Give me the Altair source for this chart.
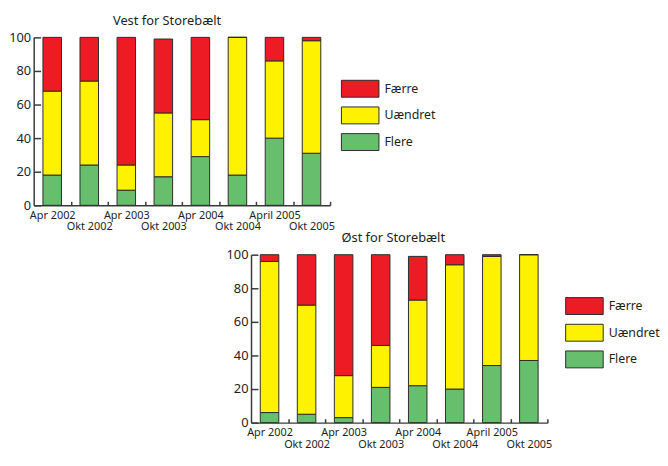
import altair as alt
import pandas as pd

categories = ["Apr 2002", "Okt 2002", "Apr 2003", "Okt 2003",
              "Apr 2004", "Okt 2004", "April 2005", "Okt 2005"]
series = ["Færre", "Uændret", "Flere"]
colors = ["#ed1c24", "#fff200", "#67bf6e"]
stack_rank = {"Flere": 0, "Uændret": 1, "Færre": 2}

vest_flere = [18, 24, 9, 17, 29, 18, 40, 31]
vest_uaendret = [50, 50, 15, 38, 22, 82, 46, 67]
vest_faerre = [32, 26, 76, 44, 49, 0, 14, 2]

oest_flere = [6, 5, 3, 21, 22, 20, 34, 37]
oest_uaendret = [90, 65, 25, 25, 51, 74, 65, 63]
oest_faerre = [4, 30, 72, 54, 26, 6, 1, 0]

FONT = "Noto Sans"
TXT = "#231f20"
LINE = "#3a3a3a"
W, H = 300, 170
STEP = W / len(categories)


def long_df(flere, uaendret, faerre):
    rows = []
    for name, vals in (("Flere", flere), ("Uændret", uaendret), ("Færre", faerre)):
        for c, v in zip(categories, vals):
            rows.append({"Periode": c, "Serie": name, "Andel": v, "rank": stack_rank[name]})
    return pd.DataFrame(rows)


second_row = [c for i, c in enumerate(categories) if i % 2 == 1]
second_test = "indexof([" + ",".join("'" + c + "'" for c in second_row) + "], datum.value) >= 0"


def panel(df, title, dx, legend_x):
    return alt.Chart(df).mark_bar(stroke="#2b2b2b", strokeWidth=1).encode(
        x=alt.X("Periode:N", sort=categories, title=None,
                scale=alt.Scale(paddingInner=0.5, paddingOuter=0.25),
                axis=alt.Axis(labelAngle=0, bandPosition=1, tickOffset=STEP * 0.25,
                              labelOffset=-STEP * 0.25,
                              tickSize={"expr": "-4"},
                              labelBaseline="top", labelAlign="center",
                              labelPadding={"condition": {"test": second_test, "value": 20}, "value": 8},
                              labelFont=FONT, labelFontSize=11, labelColor=TXT,
                              domainColor=LINE, domainWidth=1.5, tickColor=LINE, tickWidth=1.5,
                              labelOverlap=False)),
        y=alt.Y("Andel:Q", stack="zero", title=None,
                scale=alt.Scale(domain=[0, 100], nice=False),
                axis=alt.Axis(values=[0, 20, 40, 60, 80, 100], grid=False,
                              tickSize={"expr": "-7"}, labelPadding=10,
                              minExtent=25, maxExtent=25,
                              labelFont=FONT, labelFontSize=13, labelColor=TXT,
                              domainColor=LINE, domainWidth=1.5, tickColor=LINE, tickWidth=1.5)),
        color=alt.Color("Serie:N", scale=alt.Scale(domain=series, range=colors),
                        legend=alt.Legend(title=None, orient="none", legendX=legend_x, legendY=42,
                                          symbolType="M-1,-0.9L3,-0.9L3,0.9L-1,0.9Z",
                                          symbolSize=361, symbolStrokeColor="#2b2b2b",
                                          symbolStrokeWidth=1, symbolOpacity=1,
                                          labelOffset=24, rowPadding=5,
                                          labelFont=FONT, labelFontSize=12.5, labelColor=TXT)),
        order=alt.Order("rank:Q", sort="ascending"),
    ).properties(
        width=W, height=H,
        title=alt.TitleParams(title, font=FONT, fontSize=13, fontWeight="normal",
                              color=TXT, anchor="middle", frame="group", dx=dx, offset=4),
    )


top = panel(long_df(vest_flere, vest_uaendret, vest_faerre), "Vest for Storebælt", -15, 311)
bottom = panel(long_df(oest_flere, oest_uaendret, oest_faerre), "Øst for Storebælt", -6, 318)

spacer = alt.Chart(pd.DataFrame({"v": [0]})).mark_point(size=0, opacity=0).encode(
    x=alt.value(0), y=alt.value(0)
).properties(width=194, height=10)

lower = alt.hconcat(spacer, bottom, spacing=0).resolve_scale(color="independent")

chart = alt.vconcat(top, lower, spacing=0).resolve_scale(
    color="independent"
).resolve_legend(color="independent").properties(
    padding={"top": 4, "left": 0, "right": 0, "bottom": 0}
).configure_view(strokeWidth=0).configure_concat(spacing=0)

chart.save("out.html", embed_options={"renderer": "svg", "actions": False})
